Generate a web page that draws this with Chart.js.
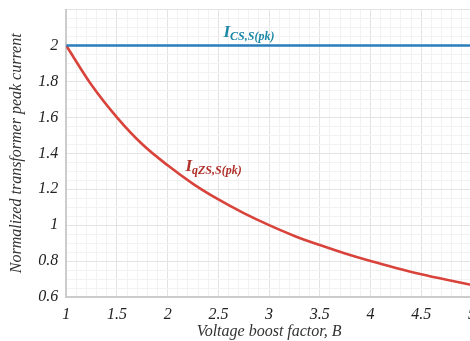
<!DOCTYPE html>
<html>
<head>
<meta charset="utf-8">
<script src="https://cdn.jsdelivr.net/npm/chart.js@4"></script>
<style>
  html, body { margin: 0; padding: 0; background: #fff; overflow: hidden; }
  #wrap { width: 490px; height: 349px; margin-top: -8px; }
</style>
</head>
<body>
<div id="wrap"><canvas id="c"></canvas></div>
<script>
// boost factor B and read-off curve values
const boostB = [1, 1.25, 1.5, 1.75, 2, 2.25, 2.5, 2.75, 3, 3.25, 3.5, 3.75, 4, 4.25, 4.5, 4.75, 5];
const iqzs = [2, 1.78, 1.6, 1.45, 1.333, 1.23, 1.143, 1.067, 1.0, 0.94, 0.889, 0.842, 0.8, 0.762, 0.727, 0.696, 0.667];
const ics = [2, 2];
const icsB = [1, 5];

const serif = "'Liberation Serif', 'DejaVu Serif', serif";

function pts(xs, ys)
{
    let out = [];
    for (let i = 0; i < xs.length; i++)
    {
        out.push({ x: xs[i], y: ys[i] });
    }
    return out;
}

function isMult(v, step)
{
    let r = v / step;
    return Math.abs(r - Math.round(r)) < 1e-6;
}

// labels drawn with subscripts
const curveLabels = {
    id: 'curveLabels',
    afterDatasetsDraw(chart)
    {
        const ctx = chart.ctx;
        const xs = chart.scales.x, ys = chart.scales.y;
        const draw = (x, y, main, sub, color) =>
        {
            ctx.save();
            ctx.fillStyle = color;
            ctx.textBaseline = 'alphabetic';
            ctx.textAlign = 'left';
            ctx.font = "italic bold 17px " + serif;
            let px = xs.getPixelForValue(x), py = ys.getPixelForValue(y);
            ctx.fillText(main, px, py);
            let w = ctx.measureText(main).width;
            ctx.font = "italic bold 12px " + serif;
            ctx.fillText(sub, px + w, py + 3);
            ctx.restore();
        };
        draw(2.55, 2.05, 'I', 'CS,S(pk)', '#1a88a6');
        draw(2.175, 1.30, 'I', 'qZS,S(pk)', '#b0302a');
    }
};

new Chart('c', {
    type: 'scatter',
    data: {
        datasets: [
            {
                label: 'ICS',
                data: pts(icsB, ics),
                showLine: true,
                borderColor: '#2a7dbb',
                borderWidth: 2.6,
                pointRadius: 0,
            },
            {
                label: 'IqZS',
                data: pts(boostB, iqzs),
                showLine: true,
                borderColor: '#d8433b',
                borderWidth: 2.6,
                pointRadius: 0,
                cubicInterpolationMode: 'monotone',
            },
        ]
    },
    options: {
        responsive: true,
        maintainAspectRatio: false,
        animation: false,
        layout: { padding: { top: 0, right: 18, left: 7, bottom: 1 } },
        plugins: {
            legend: { display: false },
            tooltip: { enabled: false },
        },
        scales: {
            x: {
                type: 'linear',
                min: 1,
                max: 5,
                border: { color: '#cccccc', width: 2 },
                grid: {
                    color: c => isMult(c.tick.value, 0.5) ? '#e3e3e3' : '#f2f2f2',
                    lineWidth: 1,
                    drawTicks: false,
                },
                ticks: {
                    stepSize: 0.1,
                    autoSkip: false,
                    maxRotation: 0,
                    padding: 10,
                    color: '#222',
                    font: { family: serif, style: 'italic', size: 16, lineHeight: 1 },
                    callback: v => isMult(v, 0.5) ? String(Math.round(v * 10) / 10) : '',
                },
                title: {
                    display: true,
                    text: 'Voltage boost factor, B',
                    color: '#333',
                    padding: { top: -9, bottom: 0 },
                    font: { family: serif, style: 'italic', size: 16, lineHeight: 1 },
                },
            },
            y: {
                type: 'linear',
                min: 0.6,
                max: 2.2,
                border: { color: '#cccccc', width: 2 },
                grid: {
                    color: c => c.tick.value > 2.19 ? '#e3e3e3' : (isMult(c.tick.value, 0.2) ? '#e3e3e3' : '#f2f2f2'),
                    lineWidth: 1,
                    drawTicks: false,
                },
                ticks: {
                    stepSize: 0.05,
                    autoSkip: false,
                    padding: 8,
                    color: '#222',
                    font: { family: serif, style: 'italic', size: 16 },
                    callback: v => (isMult(v, 0.2) && v < 2.1) ? String(Math.round(v * 10) / 10) : '',
                },
                title: {
                    display: true,
                    text: 'Normalized transformer peak current',
                    color: '#333',
                    padding: { top: 0, bottom: 4 },
                    font: { family: serif, style: 'italic', size: 16 },
                },
            },
        },
    },
    plugins: [curveLabels],
});
</script>
</body>
</html>
